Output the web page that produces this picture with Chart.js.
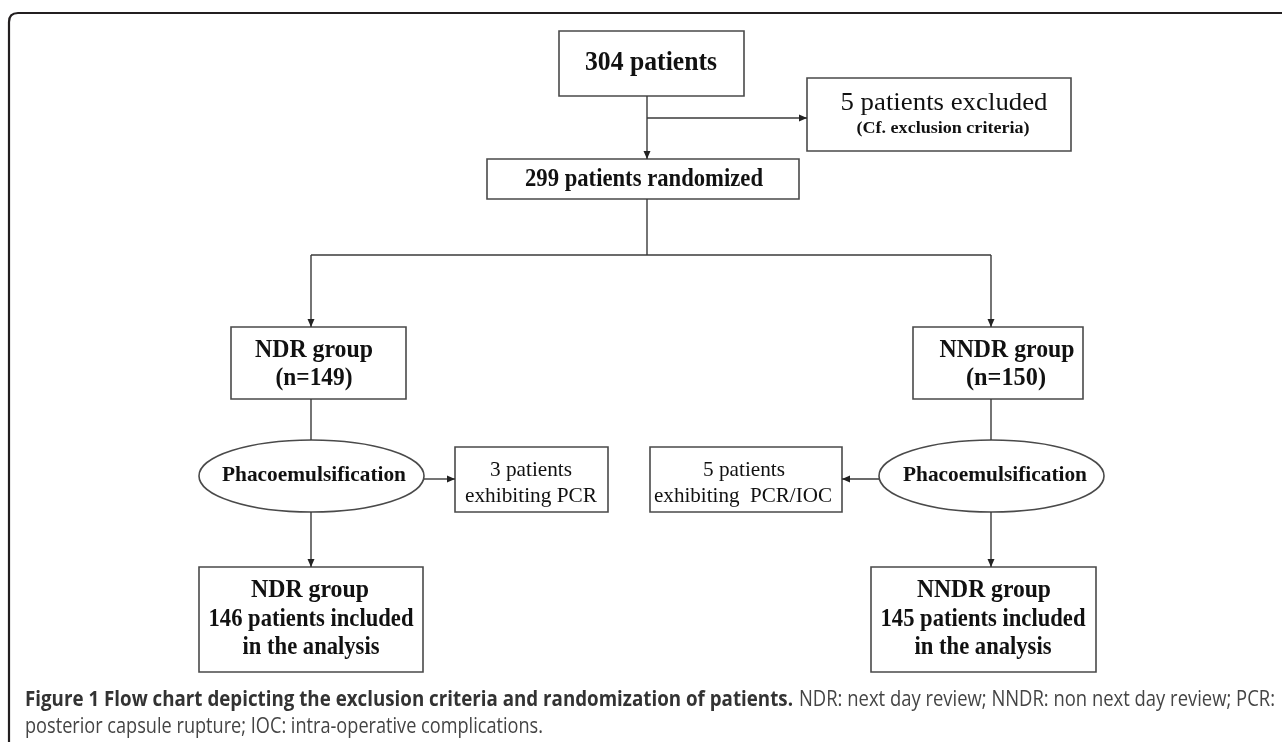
<!DOCTYPE html>
<html><head><meta charset="utf-8">
<script src="https://cdn.jsdelivr.net/npm/chart.js@4.4.1/dist/chart.umd.min.js"></script>
<style>html,body{margin:0;padding:0;background:#fff;}canvas{display:block;}</style>
</head><body>
<canvas id="c" width="1282" height="742"></canvas>
<script>
// ---- data ----
const stageNames = ['Enrolled','Excluded','Randomized','NDR group','NNDR group','NDR PCR','NNDR PCR/IOC','NDR analysed','NNDR analysed'];
const patientCounts = [304, 5, 299, 149, 150, 3, 5, 146, 145];
const groupNames = ['NDR', 'NNDR'];
const captionBold = 'Figure 1 Flow chart depicting the exclusion criteria and randomization of patients.';
const captionRest = 'NDR: next day review; NNDR: non next day review; PCR:';
const captionLine2 = 'posterior capsule rupture; IOC: intra-operative complications.';

// ---- layout (scale units) ----
const SERIF = '"Liberation Serif", "Times New Roman", serif';
const nodes = [
  {shape:'rect', box:[559,31,744,96], lines:[{t:`${patientCounts[0]} patients`, x:651, y:63, w:132, f:'bold 27px '+SERIF}]},
  {shape:'rect', box:[807,78,1071,151], lines:[
    {t:`${patientCounts[1]} patients excluded`, x:944, y:103, w:207, f:'26px '+SERIF},
    {t:'(Cf. exclusion criteria)', x:943, y:129, w:173, f:'bold 17px '+SERIF}]},
  {shape:'rect', box:[487,159,799,199], lines:[{t:`${patientCounts[2]} patients randomized`, x:644, y:180, w:238, f:'bold 25px '+SERIF}]},
  {shape:'rect', box:[231,327,406,399], lines:[
    {t:`${groupNames[0]} group`, x:314, y:351, w:118, f:'bold 25px '+SERIF},
    {t:`(n=${patientCounts[3]})`, x:314, y:379, w:77, f:'bold 25px '+SERIF}]},
  {shape:'rect', box:[913,327,1083,399], lines:[
    {t:`${groupNames[1]} group`, x:1007, y:351, w:135, f:'bold 25px '+SERIF},
    {t:`(n=${patientCounts[4]})`, x:1006, y:379, w:80, f:'bold 25px '+SERIF}]},
  {shape:'ellipse', box:[199,440,424,512], lines:[{t:'Phacoemulsification', x:314, y:476, w:184, f:'bold 21px '+SERIF}]},
  {shape:'ellipse', box:[879,440,1104,512], lines:[{t:'Phacoemulsification', x:995, y:476, w:184, f:'bold 21px '+SERIF}]},
  {shape:'rect', box:[455,447,608,512], lines:[
    {t:`${patientCounts[5]} patients`, x:531, y:470, w:82, f:'21px '+SERIF},
    {t:'exhibiting PCR', x:531, y:496, w:132, f:'21px '+SERIF}]},
  {shape:'rect', box:[650,447,842,512], lines:[
    {t:`${patientCounts[6]} patients`, x:744, y:470, w:82, f:'21px '+SERIF},
    {t:'exhibiting  PCR/IOC', x:743, y:496, w:178, f:'21px '+SERIF}]},
  {shape:'rect', box:[199,567,423,672], lines:[
    {t:`${groupNames[0]} group`, x:310, y:590, w:118, f:'bold 26px '+SERIF},
    {t:`${patientCounts[7]} patients included`, x:311, y:619, w:205, f:'bold 26px '+SERIF},
    {t:'in the analysis', x:311, y:647, w:137, f:'bold 26px '+SERIF}]},
  {shape:'rect', box:[871,567,1096,672], lines:[
    {t:`${groupNames[1]} group`, x:984, y:590, w:134, f:'bold 26px '+SERIF},
    {t:`${patientCounts[8]} patients included`, x:983, y:619, w:205, f:'bold 26px '+SERIF},
    {t:'in the analysis', x:983, y:647, w:137, f:'bold 26px '+SERIF}]}
];
const edges = [
  {p:[[647,96],[647,159]], arrow:true},
  {p:[[647,118],[807,118]], arrow:true},
  {p:[[647,199],[647,255]], arrow:false},
  {p:[[311,255],[991,255]], arrow:false},
  {p:[[311,255],[311,327]], arrow:true},
  {p:[[991,255],[991,327]], arrow:true},
  {p:[[311,399],[311,440]], arrow:false},
  {p:[[424,479],[455,479]], arrow:true},
  {p:[[311,512],[311,567]], arrow:true},
  {p:[[991,399],[991,440]], arrow:false},
  {p:[[879,479],[842,479]], arrow:true},
  {p:[[991,512],[991,567]], arrow:true}
];

function fitText(ctx, text, cx, cy, w, font, color, align) {
  ctx.save();
  ctx.font = font;
  ctx.fillStyle = color;
  ctx.textBaseline = 'middle';
  ctx.textAlign = 'left';
  const m = ctx.measureText(text).width;
  const s = w / m;
  const left = align === 'left' ? cx : cx - w / 2;
  ctx.translate(left, cy);
  ctx.scale(s, 1);
  ctx.fillText(text, 0, 0);
  ctx.restore();
}

const flowPlugin = {
  id: 'flow',
  afterDraw(chart) {
    const ctx = chart.ctx;
    const X = v => chart.scales.x.getPixelForValue(v);
    const Y = v => chart.scales.y.getPixelForValue(v);
    ctx.save();
    // frame
    ctx.strokeStyle = '#231f20';
    ctx.lineWidth = 2.2;
    ctx.beginPath();
    ctx.moveTo(X(9), Y(742));
    ctx.lineTo(X(9), Y(22));
    ctx.quadraticCurveTo(X(9), Y(13), X(18), Y(13));
    ctx.lineTo(X(1282), Y(13));
    ctx.stroke();

    // nodes
    nodes.forEach(n => {
      const [x1, y1, x2, y2] = n.box;
      ctx.strokeStyle = '#4a4a4a';
      ctx.lineWidth = 1.6;
      ctx.beginPath();
      if (n.shape === 'rect') {
        ctx.rect(X(x1), Y(y1), X(x2) - X(x1), Y(y2) - Y(y1));
      } else {
        ctx.ellipse((X(x1) + X(x2)) / 2, (Y(y1) + Y(y2)) / 2, (X(x2) - X(x1)) / 2, (Y(y2) - Y(y1)) / 2, 0, 0, Math.PI * 2);
      }
      ctx.stroke();
      n.lines.forEach(l => fitText(ctx, l.t, X(l.x), Y(l.y), l.w, l.f, '#111'));
    });

    // edges
    edges.forEach(e => {
      ctx.strokeStyle = '#3a3a3a';
      ctx.fillStyle = '#222';
      ctx.lineWidth = 1.4;
      ctx.beginPath();
      e.p.forEach((pt, i) => {
        if (i === 0) ctx.moveTo(X(pt[0]), Y(pt[1])); else ctx.lineTo(X(pt[0]), Y(pt[1]));
      });
      ctx.stroke();
      if (e.arrow) {
        const a = e.p[e.p.length - 2], b = e.p[e.p.length - 1];
        const ang = Math.atan2(Y(b[1]) - Y(a[1]), X(b[0]) - X(a[0]));
        const L = 8, W = 3.5;
        const bx = X(b[0]), by = Y(b[1]);
        ctx.beginPath();
        ctx.moveTo(bx, by);
        ctx.lineTo(bx - L * Math.cos(ang) + W * Math.sin(ang), by - L * Math.sin(ang) - W * Math.cos(ang));
        ctx.lineTo(bx - L * Math.cos(ang) - W * Math.sin(ang), by - L * Math.sin(ang) + W * Math.cos(ang));
        ctx.closePath();
        ctx.fill();
      }
    });

    // caption
    fitText(ctx, captionBold, X(25), Y(700), 768, 'bold 21px "Open Sans", sans-serif', '#333', 'left');
    fitText(ctx, captionRest, X(799), Y(700), 476, '21px "Open Sans", sans-serif', '#444', 'left');
    fitText(ctx, captionLine2, X(25), Y(727), 518, '21px "Open Sans", sans-serif', '#444', 'left');
    ctx.restore();
  }
};

const nodeCenters = nodes.map((n, i) => ({x: (n.box[0] + n.box[2]) / 2, y: (n.box[1] + n.box[3]) / 2, count: patientCounts[i]}));

new Chart(document.getElementById('c'), {
  type: 'scatter',
  data: {
    labels: stageNames,
    datasets: [{label: 'Patients', data: nodeCenters, pointRadius: 0, pointHoverRadius: 0}]
  },
  options: {
    responsive: false,
    animation: false,
    events: [],
    layout: {padding: 0},
    plugins: {legend: {display: false}, tooltip: {enabled: false}},
    scales: {
      x: {type: 'linear', min: 0, max: 1282, display: false},
      y: {type: 'linear', min: 0, max: 742, reverse: true, display: false}
    }
  },
  plugins: [flowPlugin]
});
</script>
</body></html>
